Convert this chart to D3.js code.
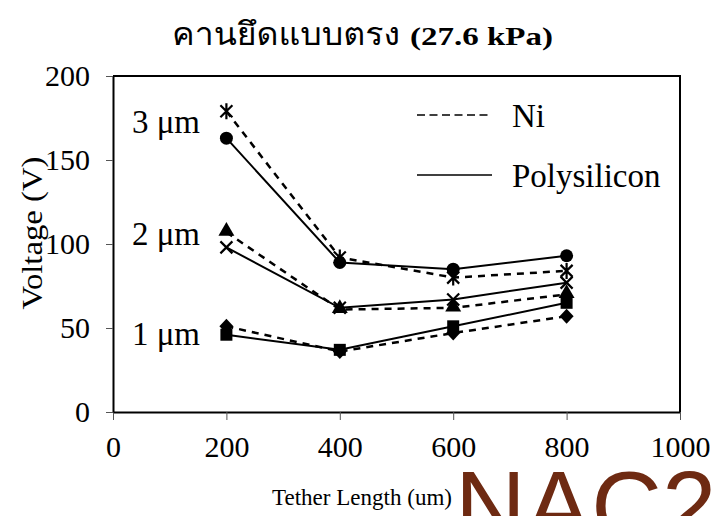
<!DOCTYPE html>
<html>
<head>
<meta charset="utf-8">
<script src="https://cdn.jsdelivr.net/npm/d3@7"></script>
<style>
body { margin: 0; background: #fff; }
</style>
</head>
<body>
<div id="chart"></div>
<script>
// tether length (um) on x, voltage (V) on y
const lengths = [200, 400, 600, 800];
const ni3 = [179, 92, 80, 84];
const poly3 = [163, 89, 85, 93];
const ni2 = [107, 61, 62, 70];
const poly2 = [98, 62, 67, 77];
const ni1 = [51, 36, 47, 57];
const poly1 = [46, 37, 51, 65];
const thickLabels = ["3 μm", "2 μm", "1 μm"];
const thickLabelAt = [173, 106, 47];
const xTicks = [0, 200, 400, 600, 800, 1000];
const yTicks = [0, 50, 100, 150, 200];

const W = 715, H = 516;
const plot = { left: 113, right: 680, top: 76, bottom: 412 };
const serif = "'Liberation Serif', 'Times New Roman', serif";

const svg = d3.select("#chart").append("svg").attr("width", W).attr("height", H)
	.attr("font-family", serif);

var xScale = d3.scaleLinear().domain([0, 1000]).range([plot.left, plot.right]);
var yScale = d3.scaleLinear().domain([0, 200]).range([plot.bottom, plot.top]);

// frame (top + right)
svg.append("path")
	.attr("d", "M" + plot.left + "," + plot.top + "H" + plot.right + "V" + plot.bottom)
	.attr("fill", "none").attr("stroke", "#000").attr("stroke-width", 2);

// axes
var xAxis = svg.append("g").attr("transform", "translate(0," + plot.bottom + ")")
	.call(d3.axisBottom(xScale).tickValues(xTicks).tickFormat(d3.format("d")).tickSize(8).tickSizeOuter(0).tickPadding(16));
var yAxis = svg.append("g").attr("transform", "translate(" + plot.left + ",0)")
	.call(d3.axisLeft(yScale).tickValues(yTicks).tickSize(7).tickSizeOuter(0).tickPadding(16));
[xAxis, yAxis].forEach(function(a){
	a.attr("font-family", serif).attr("font-size", 30);
	a.select(".domain").attr("stroke-width", 2);
	a.selectAll(".tick line").attr("stroke", "#555");
	a.selectAll("text").attr("fill", "#000");
});

// series
var series = [
	{ vals: ni3, dash: true, mark: "asterisk" },
	{ vals: poly3, dash: false, mark: "circle" },
	{ vals: ni2, dash: true, mark: "triangle" },
	{ vals: poly2, dash: false, mark: "cross" },
	{ vals: ni1, dash: true, mark: "diamond" },
	{ vals: poly1, dash: false, mark: "square" }
];

var line = d3.line().x(function(d, i){ return xScale(lengths[i]); }).y(function(d){ return yScale(d); });

series.forEach(function(s){
	svg.append("path").attr("d", line(s.vals))
		.attr("fill", "none").attr("stroke", "#000")
		.attr("stroke-width", s.dash ? 2.5 : 2)
		.attr("stroke-dasharray", s.dash ? "7,6" : null);
});

function drawMarker(g, type, x, y){
	if (type === "circle") {
		g.append("circle").attr("cx", x).attr("cy", y).attr("r", 6.5);
	} else if (type === "square") {
		g.append("rect").attr("x", x - 6).attr("y", y - 6).attr("width", 12).attr("height", 12);
	} else if (type === "triangle") {
		g.append("path").attr("d", d3.symbol(d3.symbolTriangle, 110)()).attr("transform", "translate(" + x + "," + (y - 1) + ")");
	} else if (type === "diamond") {
		g.append("path").attr("d", "M0,-7.5L7,0L0,7.5L-7,0Z").attr("transform", "translate(" + x + "," + y + ")");
	} else if (type === "cross") {
		g.append("path").attr("d", "M-6,-6L6,6M-6,6L6,-6").attr("transform", "translate(" + x + "," + y + ")")
			.attr("stroke", "#000").attr("stroke-width", 2.2).attr("fill", "none");
	} else if (type === "asterisk") {
		g.append("path").attr("d", "M-6,-6L6,6M-6,6L6,-6M0,-8V8").attr("transform", "translate(" + x + "," + y + ")")
			.attr("stroke", "#000").attr("stroke-width", 2.2).attr("fill", "none");
	}
}

var marks = svg.append("g").attr("fill", "#000");
series.forEach(function(s){
	s.vals.forEach(function(v, i){ drawMarker(marks, s.mark, xScale(lengths[i]), yScale(v)); });
});

// thickness labels
svg.selectAll(".thick").data(thickLabels).enter().append("text")
	.attr("x", 200).attr("y", function(d, i){ return yScale(thickLabelAt[i]); })
	.attr("dy", "0.35em").attr("text-anchor", "end").attr("font-size", 33)
	.text(function(d){ return d; });

// legend
var legend = [{ name: "Ni", dash: true }, { name: "Polysilicon", dash: false }];
legend.forEach(function(l, i){
	var y = 115 + i * 60;
	svg.append("line").attr("x1", 417).attr("x2", 492).attr("y1", y).attr("y2", y)
		.attr("stroke", "#000").attr("stroke-width", 1.5).attr("stroke-dasharray", l.dash ? "8,4.5" : null);
	svg.append("text").attr("x", 512).attr("y", y).attr("dy", "0.35em").attr("font-size", 33).text(l.name);
});

// axis titles
svg.append("text").attr("x", 362).attr("y", 505).attr("text-anchor", "middle").attr("font-size", 23)
	.attr("textLength", 180).attr("lengthAdjust", "spacing").text("Tether Length (um)");
svg.append("text").attr("transform", "translate(42,233) rotate(-90)").attr("text-anchor", "middle")
	.attr("font-size", 30).attr("textLength", 153).attr("lengthAdjust", "spacingAndGlyphs").text("Voltage (V)");

// title
svg.append("text").attr("x", 172).attr("y", 45).attr("font-size", 32)
	.attr("font-family", "'Norasi', 'Garuda', 'Loma', 'Noto Sans Thai', serif")
	.attr("textLength", 228).attr("lengthAdjust", "spacingAndGlyphs").text("คานยึดแบบตรง");
svg.append("text").attr("x", 410).attr("y", 45).attr("font-size", 26).attr("font-weight", "bold")
	.attr("textLength", 143).attr("lengthAdjust", "spacingAndGlyphs").text("(27.6 kPa)");

// watermark
svg.append("text").attr("x", 455).attr("y", 540).attr("font-family", "'Liberation Sans', Arial, sans-serif")
	.attr("font-size", 98).attr("fill", "#6e2a12").text("NAC2");
</script>
</body>
</html>
